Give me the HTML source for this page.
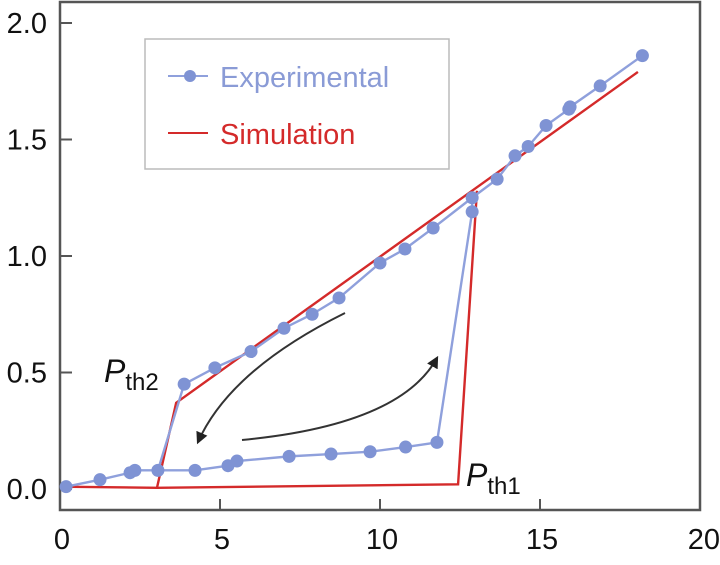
<!DOCTYPE html>
<html><head><meta charset="utf-8"><style>
html,body{margin:0;padding:0;background:#fff;}
svg{display:block;font-family:"Liberation Sans",sans-serif;}
</style></head><body>
<svg id="chart" width="720" height="565" viewBox="0 0 720 565" xmlns="http://www.w3.org/2000/svg">
<rect x="0" y="0" width="720" height="565" fill="#fff"/>
<g id="axes"></g>
<g id="series"></g>
<g>
<rect x="145" y="39" width="304" height="130" fill="none" stroke="#bbb" stroke-width="1.5"/>
<g>
<line x1="168" y1="76" x2="208" y2="76" stroke="#8fa0dc" stroke-width="2"/>
<circle cx="190" cy="76" r="6" fill="#7f93d4"/>
<text x="220" y="87" font-size="29" fill="#8a9bd6">Experimental</text></g>
<g>
<line x1="168" y1="133" x2="208" y2="133" stroke="#d42a2a" stroke-width="2"/>
<text x="220" y="144" font-size="29" fill="#d42a2a">Simulation</text></g>
</g>
<g>
<defs><marker id="ah" viewBox="0 0 10 10" refX="8" refY="5" markerWidth="6" markerHeight="6" orient="auto"><path d="M0,0 L10,5 L0,10 z" fill="#222"/></marker></defs>
<path d="M345,313 Q230,370 198,442" fill="none" stroke="#333" stroke-width="2" marker-end="url(#ah)"/>
<path d="M242,440 Q400,425 437,358" fill="none" stroke="#333" stroke-width="2" marker-end="url(#ah)"/>
<text x="104" y="382" font-size="32" fill="#111"><tspan font-style="italic">P</tspan><tspan font-size="24" dy="8">th2</tspan></text>
<text x="466" y="486" font-size="32" fill="#111"><tspan font-style="italic">P</tspan><tspan font-size="24" dy="8">th1</tspan></text>
</g>
</svg>
<script>
const xTicks = [0, 5, 10, 15, 20];
const yTicks = [0.0, 0.5, 1.0, 1.5, 2.0];
const expUpX = [0.19,1.25,2.19,2.34,3.06,4.22,5.25,5.53,7.16,8.47,9.69,10.8,11.78,12.88,12.88,13.66,14.22,14.63,15.19,15.9,15.94,16.88,18.2];
const expUpY = [0.01,0.04,0.07,0.08,0.08,0.08,0.10,0.12,0.14,0.15,0.16,0.18,0.20,1.19,1.25,1.33,1.43,1.47,1.56,1.63,1.64,1.73,1.86];
const expDownX = [12.88,11.66,10.78,10.0,8.72,7.88,7.0,5.97,4.84,3.88,3.06];
const expDownY = [1.25,1.12,1.03,0.97,0.82,0.75,0.69,0.59,0.52,0.45,0.08];
const simUpX = [0,3.03,12.44,13.03];
const simUpY = [0.01,0.005,0.02,1.28];
const simDownX = [3.03,3.63,18.06];
const simDownY = [0.005,0.37,1.79];

const NS="http://www.w3.org/2000/svg";
const X0=60,X1=700,Y0=489,YT=23;
const sx=v=>X0+(v-0)*(X1-X0)/20;
const sy=v=>Y0-(v-0)*(Y0-YT)/2;
function mk(tag,parent){const e=document.createElementNS(NS,tag);parent.appendChild(e);return e;}
const axes=document.getElementById('axes'), series=document.getElementById('series');

const frame=mk('rect',axes);


frame.setAttribute('x',X0);frame.setAttribute('y',2);frame.setAttribute('width',X1-X0);frame.setAttribute('height',508);
frame.setAttribute('fill','none');frame.setAttribute('stroke','#555');frame.setAttribute('stroke-width','2.5');

xTicks.forEach(t=>{
  const l=mk('line',axes);
  
  
  l.setAttribute('x1',sx(t));l.setAttribute('x2',sx(t));l.setAttribute('y1',510);l.setAttribute('y2',499);
  l.setAttribute('stroke','#555');l.setAttribute('stroke-width','2');
  const tx=mk('text',axes);
  
  
  tx.setAttribute('x',sx(t)+2);tx.setAttribute('y',549);tx.setAttribute('font-size','29');
  tx.setAttribute('text-anchor',t===20?'end':'middle');tx.setAttribute('fill','#111');
  if(t===20){tx.setAttribute('x',720);}
  tx.textContent=t;
});
yTicks.forEach(t=>{
  const l=mk('line',axes);
  
  
  l.setAttribute('x1',X0);l.setAttribute('x2',X0+12);l.setAttribute('y1',sy(t));l.setAttribute('y2',sy(t));
  l.setAttribute('stroke','#555');l.setAttribute('stroke-width','2');
  const tx=mk('text',axes);
  
  
  tx.setAttribute('x',47);tx.setAttribute('y',sy(t)+10);tx.setAttribute('font-size','29');
  tx.setAttribute('text-anchor','end');tx.setAttribute('fill','#111');
  tx.textContent=t.toFixed(1);
});

function line(xs,ys,color,w,name){
  const p=mk('polyline',series);
  
  
  p.setAttribute('points',xs.map((x,i)=>sx(x)+','+sy(ys[i])).join(' '));
  p.setAttribute('fill','none');p.setAttribute('stroke',color);p.setAttribute('stroke-width',w);
}
line(simUpX,simUpY,'#d42a2a',2.4,'simulation-lower-branch');
line(simDownX,simDownY,'#d42a2a',2.4,'simulation-upper-branch');
line(expUpX,expUpY,'#8fa0dc',2.4,'experimental-increasing-line');
line(expDownX,expDownY,'#8fa0dc',2.4,'experimental-decreasing-line');
function pts(xs,ys){
  xs.forEach((x,i)=>{
    const c=mk('circle',series);
    
    
    c.setAttribute('cx',sx(x));c.setAttribute('cy',sy(ys[i]));c.setAttribute('r',6.5);c.setAttribute('fill','#7f93d4');
  });
}
pts(expUpX,expUpY);
pts(expDownX.slice(1,-1),expDownY.slice(1,-1));
</script>
</body></html>
